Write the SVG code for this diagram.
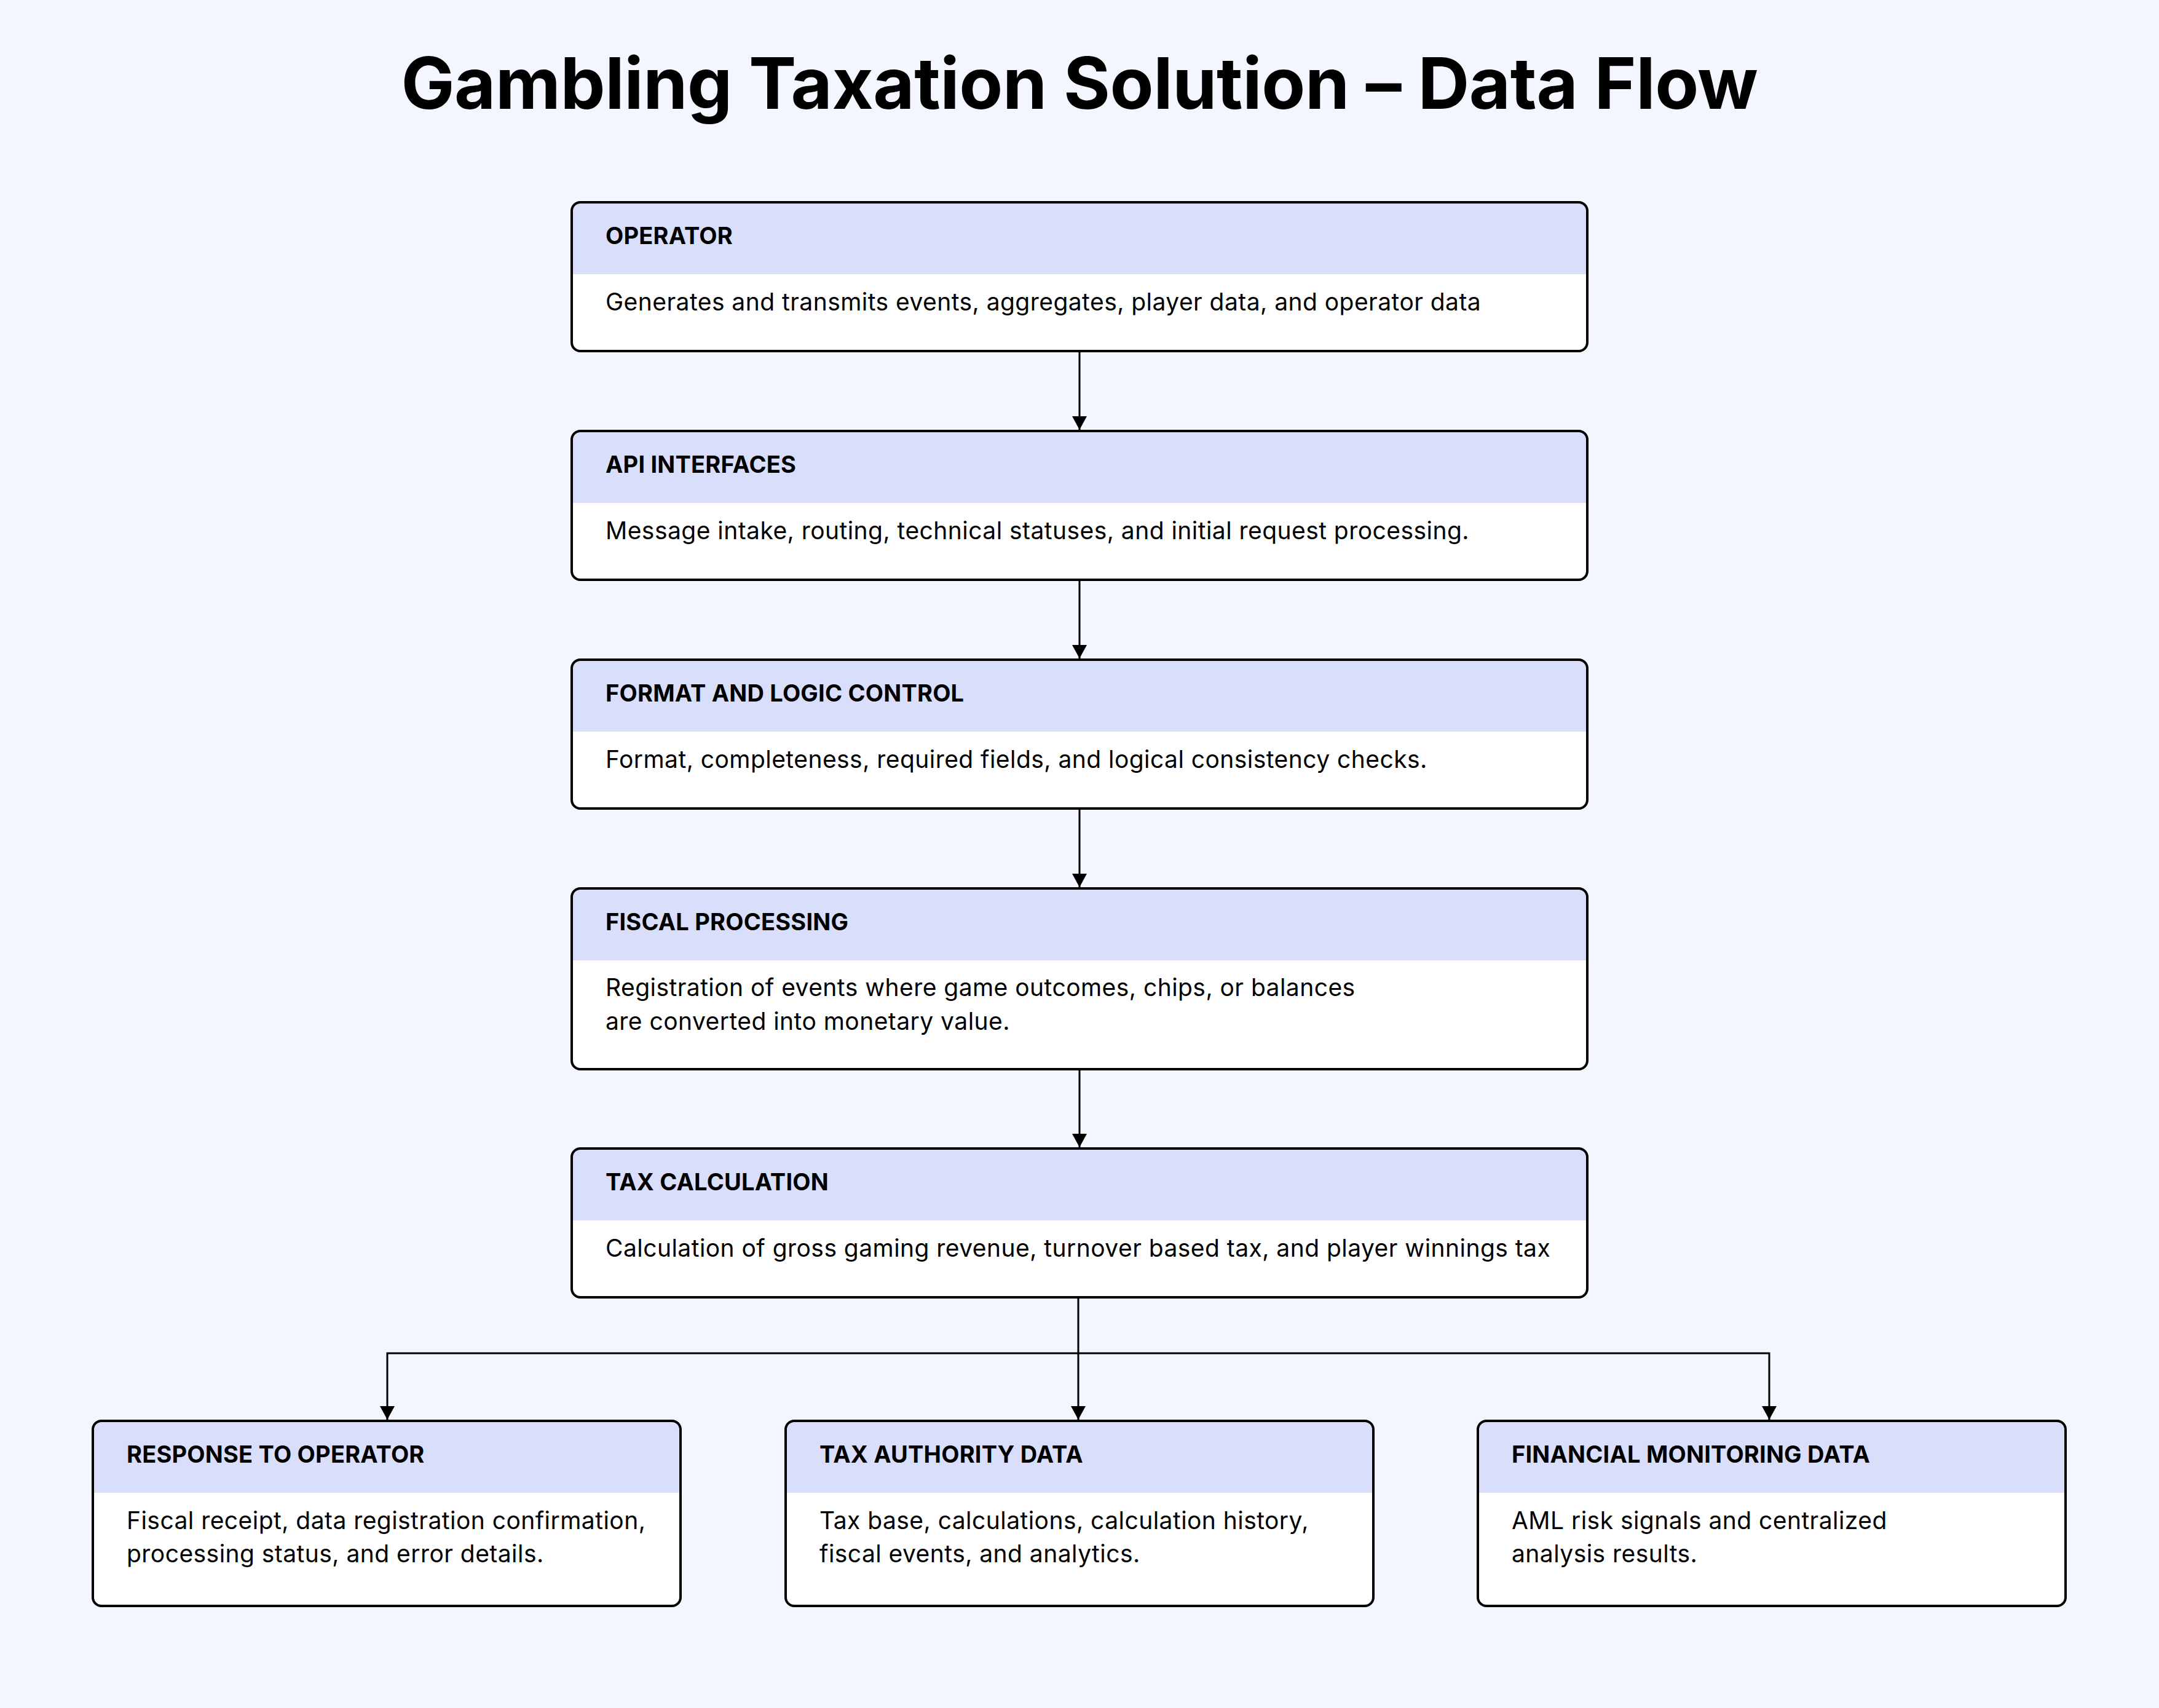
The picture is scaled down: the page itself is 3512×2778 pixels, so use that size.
<svg xmlns="http://www.w3.org/2000/svg" width="3512" height="2778" viewBox="0 0 3512 2778">
<style>
.bg{fill:#F3F6FE}
.card{fill:#FFFFFF}
.hdr{fill:#D9DEFB}
.border{fill:none;stroke:#000;stroke-width:4}
.title{font-family:Inter,"Noto Sans","Liberation Sans",sans-serif;font-weight:700;font-size:116px;fill:#000;text-anchor:middle;letter-spacing:-0.4px}
.h{font-family:Inter,"Noto Sans","Liberation Sans",sans-serif;font-weight:700;font-size:38px;fill:#000;letter-spacing:0.2px}
.b{font-family:Inter,"Noto Sans","Liberation Sans",sans-serif;font-weight:400;font-size:39px;fill:#000;letter-spacing:0.45px}
.conn{fill:none;stroke:#000;stroke-width:3}
</style>
<defs>
<marker id="arr" markerUnits="userSpaceOnUse" markerWidth="24" markerHeight="22" refX="12" refY="22" orient="0">
<path d="M0,0 L24,0 L12,22 Z" fill="#000"/>
</marker>
</defs>
<rect class="bg" x="0" y="0" width="3512" height="2778"/>
<text class="title" x="1756" y="177">Gambling Taxation Solution – Data Flow</text>

<g id="connectors">
<path class="conn" d="M1756,571 V699" marker-end="url(#arr)"/>
<path class="conn" d="M1756,943 V1071" marker-end="url(#arr)"/>
<path class="conn" d="M1756,1315 V1443" marker-end="url(#arr)"/>
<path class="conn" d="M1756,1739 V1866" marker-end="url(#arr)"/>
<path class="conn" d="M1754,2110 V2309" marker-end="url(#arr)"/>
<path class="conn" d="M1754,2201 H630 V2309" marker-end="url(#arr)"/>
<path class="conn" d="M1754,2201 H2878 V2309" marker-end="url(#arr)"/>
</g>

<g id="operator">
<rect class="card" x="930" y="329" width="1652" height="242" rx="14"/>
<path class="hdr" d="M930,446 V343 Q930,329 944,329 H2568 Q2582,329 2582,343 V446 Z"/>
<rect class="border" x="930" y="329" width="1652" height="242" rx="14"/>
<text class="h" x="985" y="397">OPERATOR</text>
<text class="b" x="985" y="505">Generates and transmits events, aggregates, player data, and operator data</text>
</g>

<g id="api-interfaces">
<rect class="card" x="930" y="701" width="1652" height="242" rx="14"/>
<path class="hdr" d="M930,818 V715 Q930,701 944,701 H2568 Q2582,701 2582,715 V818 Z"/>
<rect class="border" x="930" y="701" width="1652" height="242" rx="14"/>
<text class="h" x="985" y="769">API INTERFACES</text>
<text class="b" x="985" y="877">Message intake, routing, technical statuses, and initial request processing.</text>
</g>

<g id="format-logic-control">
<rect class="card" x="930" y="1073" width="1652" height="242" rx="14"/>
<path class="hdr" d="M930,1190 V1087 Q930,1073 944,1073 H2568 Q2582,1073 2582,1087 V1190 Z"/>
<rect class="border" x="930" y="1073" width="1652" height="242" rx="14"/>
<text class="h" x="985" y="1141">FORMAT AND LOGIC CONTROL</text>
<text class="b" x="985" y="1249">Format, completeness, required fields, and logical consistency checks.</text>
</g>

<g id="fiscal-processing">
<rect class="card" x="930" y="1445" width="1652" height="294" rx="14"/>
<path class="hdr" d="M930,1562 V1459 Q930,1445 944,1445 H2568 Q2582,1445 2582,1459 V1562 Z"/>
<rect class="border" x="930" y="1445" width="1652" height="294" rx="14"/>
<text class="h" x="985" y="1513">FISCAL PROCESSING</text>
<text class="b" x="985" y="1620">Registration of events where game outcomes, chips, or balances</text>
<text class="b" x="985" y="1675">are converted into monetary value.</text>
</g>

<g id="tax-calculation">
<rect class="card" x="930" y="1868" width="1652" height="242" rx="14"/>
<path class="hdr" d="M930,1985 V1882 Q930,1868 944,1868 H2568 Q2582,1868 2582,1882 V1985 Z"/>
<rect class="border" x="930" y="1868" width="1652" height="242" rx="14"/>
<text class="h" x="985" y="1936">TAX CALCULATION</text>
<text class="b" x="985" y="2044">Calculation of gross gaming revenue, turnover based tax, and player winnings tax</text>
</g>

<g id="response-to-operator">
<rect class="card" x="151" y="2311" width="956" height="301" rx="14"/>
<path class="hdr" d="M151,2428 V2325 Q151,2311 165,2311 H1093 Q1107,2311 1107,2325 V2428 Z"/>
<rect class="border" x="151" y="2311" width="956" height="301" rx="14"/>
<text class="h" x="206" y="2379">RESPONSE TO OPERATOR</text>
<text class="b" x="206" y="2487">Fiscal receipt, data registration confirmation,</text>
<text class="b" x="206" y="2541">processing status, and error details.</text>
</g>

<g id="tax-authority-data">
<rect class="card" x="1278" y="2311" width="956" height="301" rx="14"/>
<path class="hdr" d="M1278,2428 V2325 Q1278,2311 1292,2311 H2220 Q2234,2311 2234,2325 V2428 Z"/>
<rect class="border" x="1278" y="2311" width="956" height="301" rx="14"/>
<text class="h" x="1333" y="2379">TAX AUTHORITY DATA</text>
<text class="b" x="1333" y="2487">Tax base, calculations, calculation history,</text>
<text class="b" x="1333" y="2541">fiscal events, and analytics.</text>
</g>

<g id="financial-monitoring-data">
<rect class="card" x="2404" y="2311" width="956" height="301" rx="14"/>
<path class="hdr" d="M2404,2428 V2325 Q2404,2311 2418,2311 H3346 Q3360,2311 3360,2325 V2428 Z"/>
<rect class="border" x="2404" y="2311" width="956" height="301" rx="14"/>
<text class="h" x="2459" y="2379">FINANCIAL MONITORING DATA</text>
<text class="b" x="2459" y="2487">AML risk signals and centralized</text>
<text class="b" x="2459" y="2541">analysis results.</text>
</g>
</svg>
